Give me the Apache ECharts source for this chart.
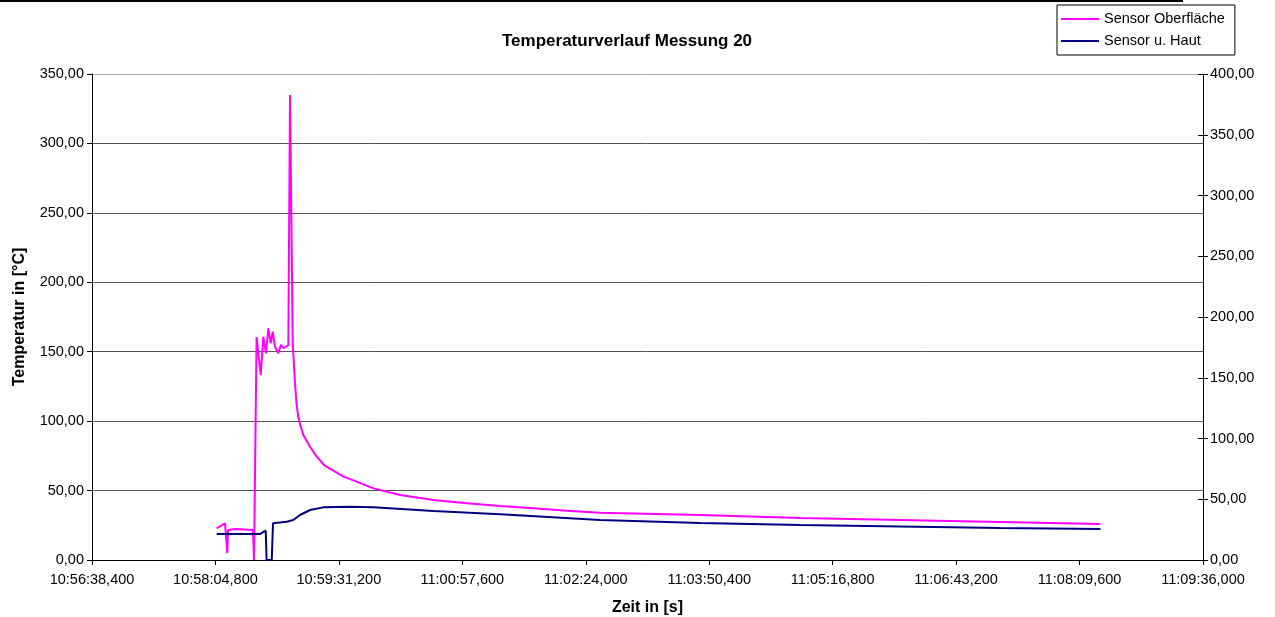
<!DOCTYPE html>
<html><head><meta charset="utf-8">
<script src="https://cdn.jsdelivr.net/npm/echarts@6/dist/echarts.min.js"></script>
<style>html,body{margin:0;padding:0;background:#fff}#c{width:1275px;height:617px}</style>
</head><body><div id="c"></div>
<script>
// x tick range (Excel time axis): 10:56:38,400 .. 11:09:36,000, step 86,4 s
const xMinTime = "10:56:38.4";
const xMaxTime = "11:09:36.0";
const xStepSec = 86.4;

const seriesNames = ["Sensor Oberfläche", "Sensor u. Haut"];

// Sensor Oberfläche (°C)
const oberTimes = ["10:58:05.7","10:58:09.4","10:58:11.5","10:58:12.6","10:58:13.1","10:58:13.6","10:58:18.5","10:58:31.1","10:58:31.8","10:58:33.6","10:58:34.8","10:58:36.5","10:58:38.3","10:58:40.2","10:58:41.8","10:58:43.5","10:58:44.9","10:58:46.5","10:58:48.8","10:58:50.7","10:58:52.3","10:58:55.8","10:58:57.0","10:58:58.9","10:59:00.5","10:59:01.7","10:59:02.8","10:59:04.0","10:59:06.3","10:59:11.0","10:59:15.7","10:59:21.5","10:59:27.4","10:59:34.4","10:59:43.7","10:59:55.4","11:00:14.1","11:00:37.4","11:01:00.8","11:01:24.1","11:01:47.4","11:02:10.8","11:02:34.1","11:03:44.1","11:04:54.1","11:06:04.1","11:07:14.1","11:08:24.2"];
const oberValues = [22.8,25.2,26.4,25.2,5.0,21.6,22.3,21.6,0,160.6,160.6,133.2,160.8,148.9,166.9,156.0,164.4,153.6,148.9,155.0,152.5,154.8,334.9,156.3,127.0,111.0,103.0,98.0,90.0,81.6,74.4,67.7,64.3,60.0,56.4,51.6,46.8,43.2,40.8,38.9,37.2,35.5,34.1,32.4,30.2,28.8,27.4,25.9];

// Sensor u. Haut (°C)
const hautTimes = ["10:58:05.7","10:58:36.0","10:58:38.1","10:58:40.0","10:58:40.6","10:58:44.2","10:58:45.1","10:58:54.7","10:58:59.3","10:59:04.0","10:59:11.0","10:59:20.3","10:59:39.0","10:59:55.4","11:00:37.4","11:01:24.1","11:02:34.1","11:03:44.1","11:04:54.1","11:06:04.1","11:07:14.1","11:08:24.2"];
const hautValues = [18.7,18.7,20.0,21.1,0,0,26.4,27.6,28.8,32.4,36.0,37.9,38.4,37.9,35.3,32.9,28.8,26.6,25.2,24.1,23.0,22.3];

function toSec(s){const p=s.split(':');return (+p[0])*3600+(+p[1])*60+parseFloat(p[2]);}
function fmt(v){
  const ms=Math.round(v*1000);
  const h=Math.floor(ms/3600000), m=Math.floor(ms%3600000/60000), sc=Math.floor(ms%60000/1000), r=ms%1000;
  const p2=n=>String(n).padStart(2,'0');
  return p2(h)+':'+p2(m)+':'+p2(sc)+','+String(r).padStart(3,'0');
}
function num(v){return v.toFixed(2).replace('.',',');}
const pairs=(t,v)=>t.map((s,i)=>[toSec(s),v[i]]);

const font='"Liberation Sans", Arial, sans-serif';
const lblSize=14.5;
const chart=echarts.init(document.getElementById('c'),null,{renderer:'canvas'});
chart.setOption({
  animation:false,
  backgroundColor:'#fff',
  textStyle:{fontFamily:font},
  title:{text:'Temperaturverlauf Messung 20',left:497,top:28,textStyle:{fontSize:17,fontWeight:'bold',color:'#000',fontFamily:font}},
  legend:{orient:'vertical',left:1057,top:5,borderColor:'#000',borderWidth:1,padding:[6,10,6,4],itemGap:6,itemWidth:38,itemHeight:2,icon:'rect',
    textStyle:{fontSize:lblSize,lineHeight:16,color:'#000',fontFamily:font},data:seriesNames},
  graphic:[{type:'rect',shape:{x:0,y:0,width:1183,height:2},style:{fill:'#000'}}],
  grid:{left:92,right:72,top:74,bottom:57,containLabel:false,outerBoundsMode:'none'},
  xAxis:{type:'value',min:toSec(xMinTime),max:toSec(xMaxTime),interval:xStepSec,
    name:'Zeit in [s]',nameLocation:'middle',nameGap:40,nameTextStyle:{fontSize:16,fontWeight:'bold',color:'#000',fontFamily:font},
    axisLine:{lineStyle:{color:'#000',width:1}},axisTick:{length:5,lineStyle:{color:'#000'}},
    axisLabel:{formatter:fmt,fontSize:lblSize,color:'#000',margin:12,fontFamily:font},splitLine:{show:false}},
  yAxis:[
    {type:'value',min:0,max:350,interval:50,position:'left',
     name:'Temperatur in [°C]',nameLocation:'middle',nameGap:64,nameRotate:90,nameTextStyle:{fontSize:16,fontWeight:'bold',color:'#000',fontFamily:font},
     axisLine:{show:true,lineStyle:{color:'#000'}},axisTick:{show:true,length:5,lineStyle:{color:'#000'}},
     axisLabel:{formatter:num,fontSize:lblSize,color:'#000',margin:8,fontFamily:font},
     splitLine:{show:true,lineStyle:{color:['#000','#555','#555','#555','#555','#555','#555','#aaa'],width:1}}},
    {type:'value',min:0,max:400,interval:50,position:'right',
     axisLine:{show:true,lineStyle:{color:'#000'}},axisTick:{show:true,length:5,lineStyle:{color:'#000'}},
     axisLabel:{formatter:num,fontSize:lblSize,color:'#000',margin:7,fontFamily:font},splitLine:{show:false}},
    {type:'value',min:0,max:400,interval:50,position:'right',
     axisLine:{show:false},axisTick:{show:true,inside:true,length:5,lineStyle:{color:'#000'}},
     axisLabel:{show:false},splitLine:{show:false}}
  ],
  series:[
    {name:seriesNames[0],type:'line',yAxisIndex:0,data:pairs(oberTimes,oberValues),symbol:'none',showSymbol:false,
     lineStyle:{color:'#FF00FF',width:2},itemStyle:{color:'#FF00FF'}},
    {name:seriesNames[1],type:'line',yAxisIndex:0,data:pairs(hautTimes,hautValues),symbol:'none',showSymbol:false,
     lineStyle:{color:'#000080',width:2},itemStyle:{color:'#000080'}}
  ]
});
</script></body></html>
